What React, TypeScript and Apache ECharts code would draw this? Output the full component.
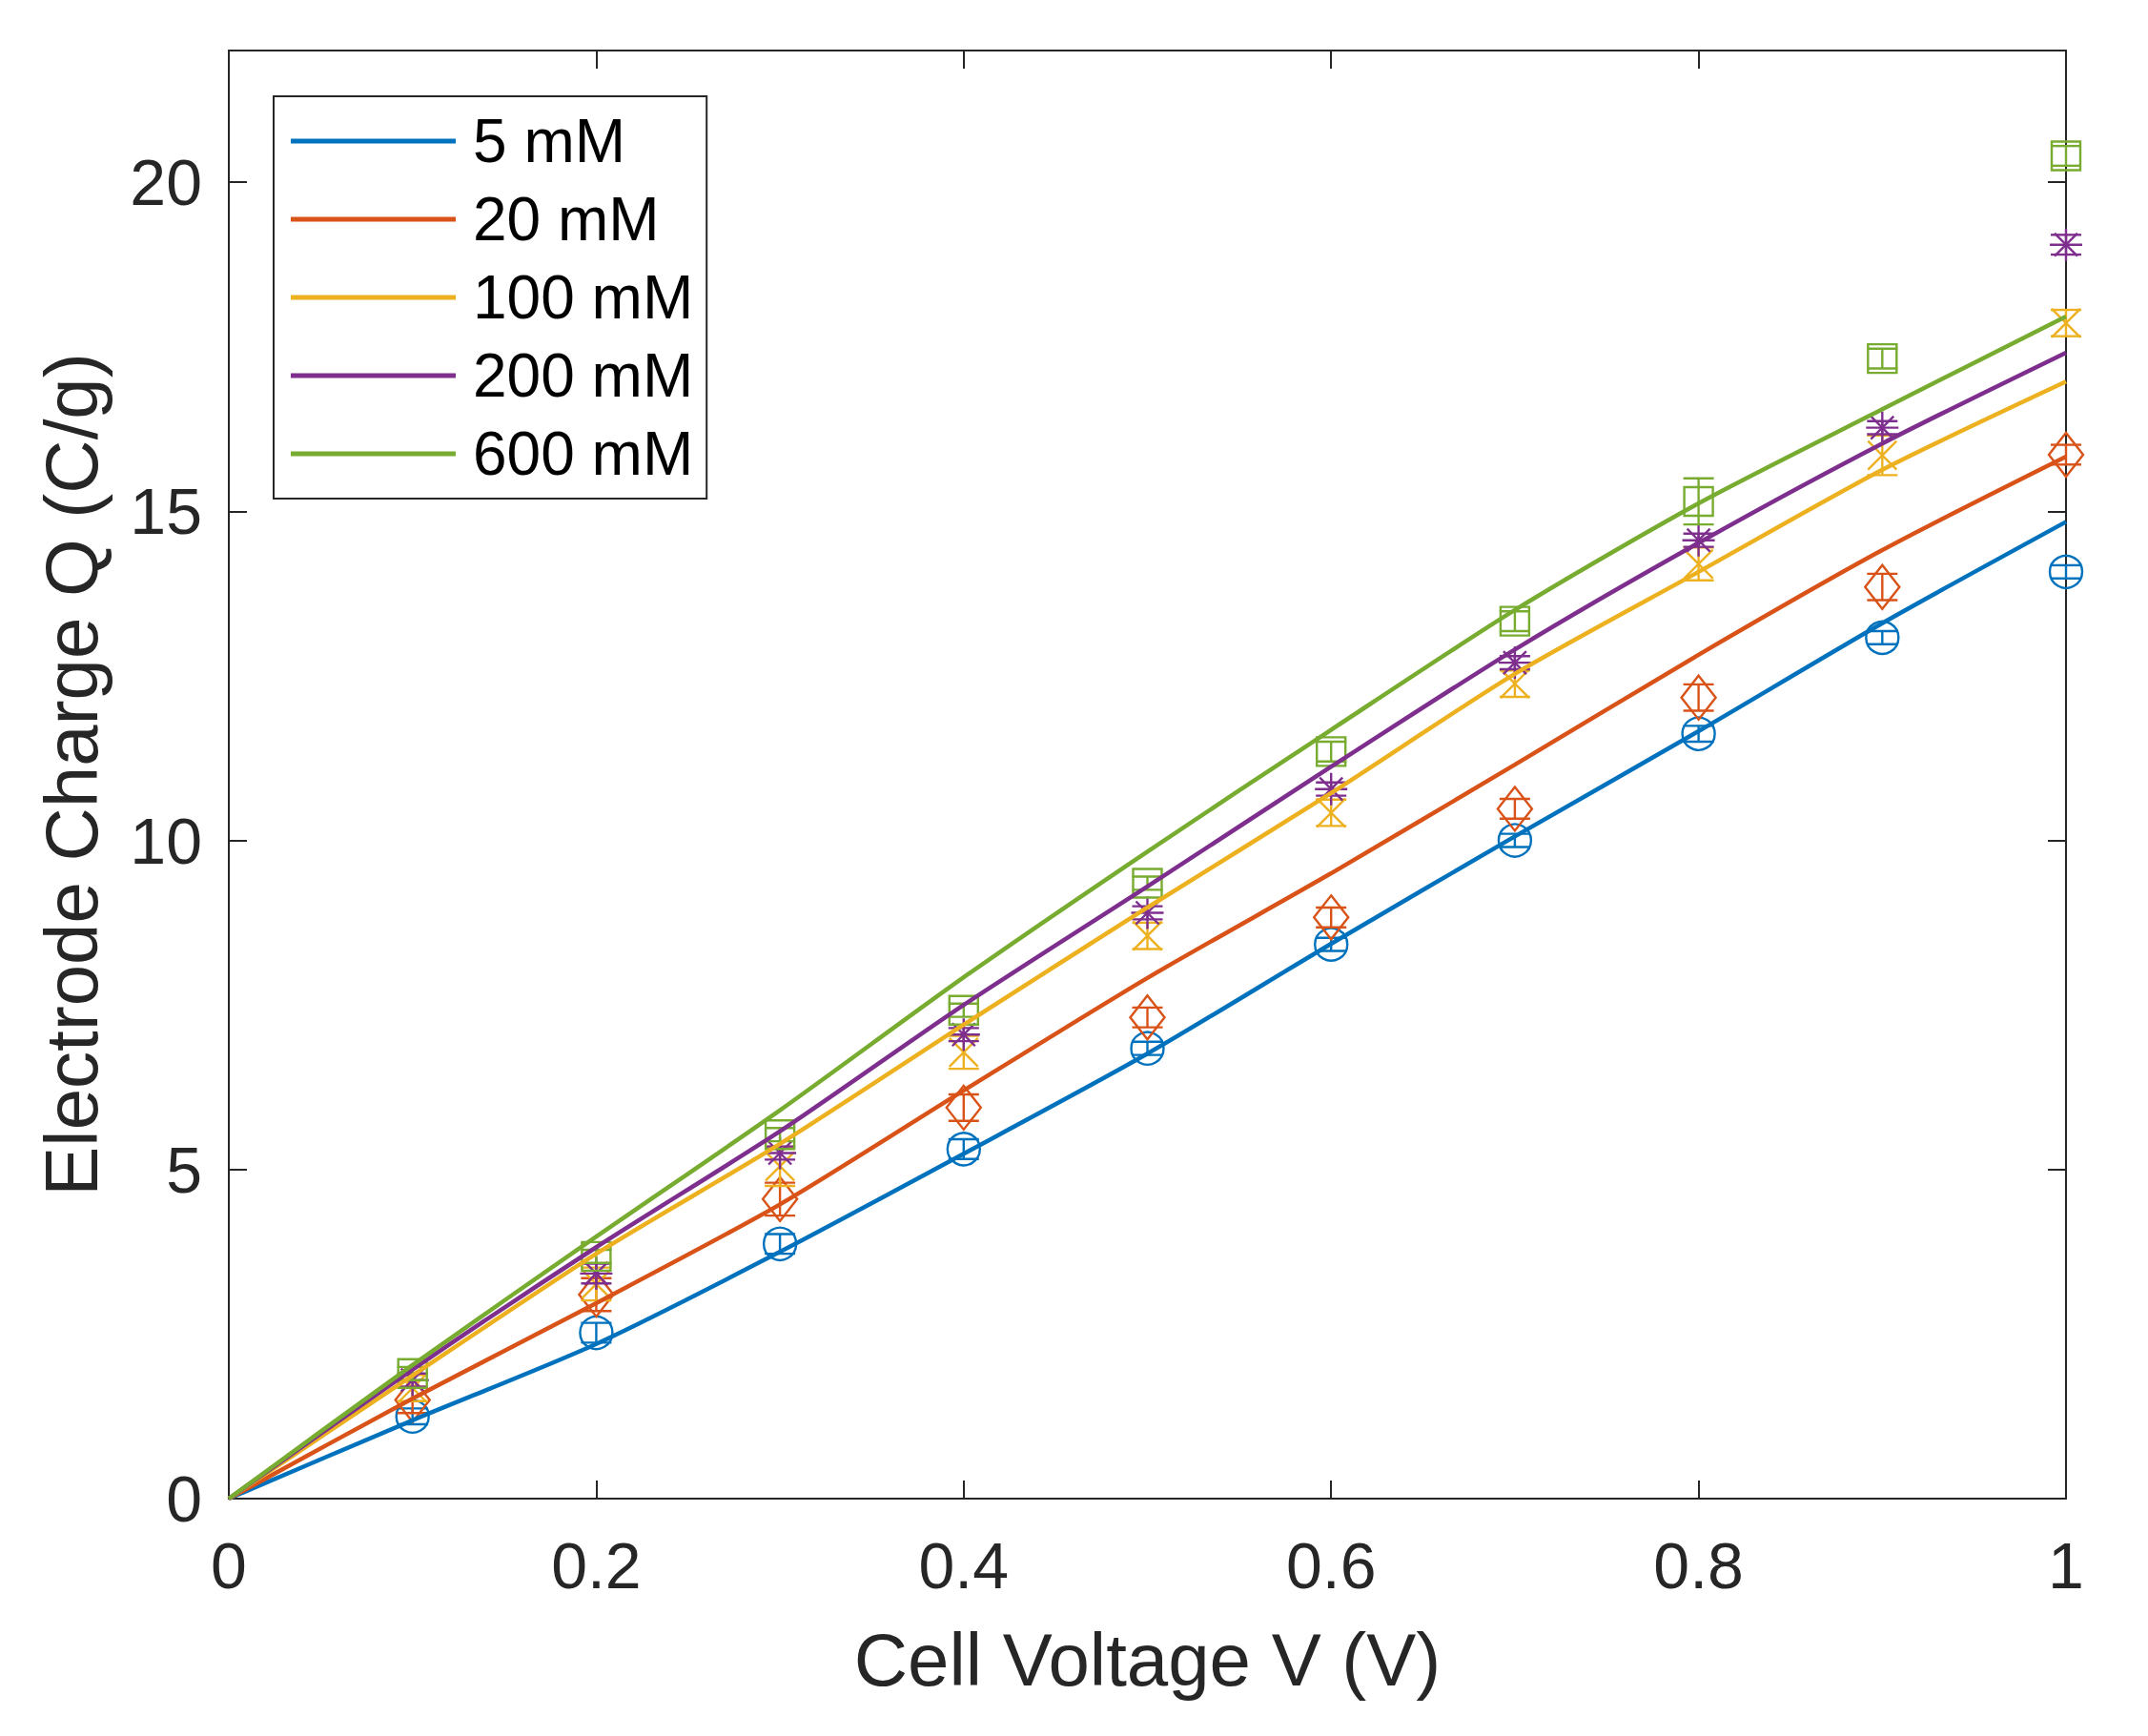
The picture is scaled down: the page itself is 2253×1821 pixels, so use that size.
import { useEffect, useRef } from "react"
import * as echarts from "echarts"

// model curves, sampled every 0.1 V
const voltage = [0, 0.1, 0.2, 0.3, 0.4, 0.5, 0.6, 0.7, 0.8, 0.9, 1.0]
const model5 = [0, 1.19, 2.35, 3.75, 5.24, 6.76, 8.43, 10.06, 11.66, 13.3, 14.84]
const model20 = [0, 1.52, 2.97, 4.47, 6.2, 7.91, 9.5, 11.15, 12.82, 14.41, 15.83]
const model100 = [0, 1.87, 3.72, 5.39, 7.2, 8.98, 10.72, 12.53, 14.08, 15.63, 16.97]
const model200 = [0, 1.96, 3.82, 5.58, 7.5, 9.3, 11.12, 12.9, 14.52, 16.03, 17.41]
const model600 = [0, 2.03, 3.98, 5.9, 7.92, 9.83, 11.68, 13.5, 15.12, 16.55, 17.96]

// measured points with error bars
const measuredVoltage = [0.1, 0.2, 0.3, 0.4, 0.5, 0.6, 0.7, 0.8, 0.9, 1.0]
const data5 = [1.25, 2.52, 3.87, 5.31, 6.84, 8.42, 10.0, 11.62, 13.08, 14.08]
const err5 = [0.12, 0.15, 0.15, 0.15, 0.1, 0.1, 0.1, 0.12, 0.1, 0.1]
const data20 = [1.5, 3.1, 4.55, 5.94, 7.31, 8.83, 10.48, 12.17, 13.85, 15.86]
const err20 = [0.2, 0.25, 0.25, 0.2, 0.15, 0.15, 0.15, 0.2, 0.2, 0.15]
const data100 = [1.68, 3.26, 5.05, 6.78, 8.55, 10.42, 12.38, 14.2, 15.85, 17.86]
const err100 = [0.2, 0.25, 0.3, 0.25, 0.2, 0.2, 0.2, 0.25, 0.3, 0.2]
const data200 = [1.8, 3.42, 5.25, 7.05, 8.9, 10.78, 12.7, 14.56, 16.27, 19.05]
const err200 = [0.1, 0.15, 0.1, 0.1, 0.1, 0.1, 0.1, 0.1, 0.1, 0.15]
const data600 = [1.9, 3.68, 5.53, 7.42, 9.35, 11.35, 13.33, 15.15, 17.32, 20.4]
const err600 = [0.1, 0.1, 0.1, 0.1, 0.1, 0.15, 0.15, 0.35, 0.15, 0.15]

const seriesNames = ["5 mM", "20 mM", "100 mM", "200 mM", "600 mM"]
const colors = ["#0072BD", "#D95319", "#EDB120", "#7E2F8E", "#77AC30"]
const markers = ["circle", "diamond", "cross", "asterisk", "square"]

const models = [model5, model20, model100, model200, model600]
const measured = [data5, data20, data100, data200, data600]
const errors = [err5, err20, err100, err200, err600]

const font = "'Liberation Sans', Arial, Helvetica, sans-serif"
const axisColor = "#262626"

function markerShapes(marker: string, cx: number, cy: number, style: any) {
  const line = (x1: number, y1: number, x2: number, y2: number) => ({
    type: "line",
    shape: { x1, y1, x2, y2 },
    style,
  })
  if (marker === "circle") {
    return [{ type: "circle", shape: { cx, cy, r: 17 }, style }]
  }
  if (marker === "diamond") {
    return [
      {
        type: "polygon",
        shape: { points: [[cx, cy - 23], [cx + 18, cy], [cx, cy + 23], [cx - 18, cy]] },
        style,
      },
    ]
  }
  if (marker === "cross") {
    return [line(cx - 15, cy - 15, cx + 15, cy + 15), line(cx - 15, cy + 15, cx + 15, cy - 15)]
  }
  if (marker === "asterisk") {
    return [
      line(cx - 17, cy, cx + 17, cy),
      line(cx, cy - 17, cx, cy + 17),
      line(cx - 12, cy - 12, cx + 12, cy + 12),
      line(cx - 12, cy + 12, cx + 12, cy - 12),
    ]
  }
  return [{ type: "rect", shape: { x: cx - 15, y: cy - 15, width: 30, height: 30 }, style }]
}

function makeRenderItem(marker: string, color: string) {
  return (params: any, api: any) => {
    const x = api.value(0)
    const y = api.value(1)
    const e = api.value(2)
    const [cx, cy] = api.coord([x, y])
    const top = api.coord([x, y + e])[1]
    const bot = api.coord([x, y - e])[1]
    const style = { stroke: color, lineWidth: 2.4, fill: "none" }
    const cap = 16
    return {
      type: "group",
      children: [
        { type: "line", shape: { x1: cx, y1: top, x2: cx, y2: bot }, style },
        { type: "line", shape: { x1: cx - cap, y1: top, x2: cx + cap, y2: top }, style },
        { type: "line", shape: { x1: cx - cap, y1: bot, x2: cx + cap, y2: bot }, style },
        ...markerShapes(marker, cx, cy, style),
      ],
    }
  }
}

export default function App() {
  const chartRef = useRef<HTMLDivElement>(null)

  useEffect(() => {
    if (!chartRef.current) return
    const chart = echarts.init(chartRef.current, null, { renderer: "svg" })

    const lineSeries = seriesNames.map((name, i) => ({
      name,
      type: "line",
      data: voltage.map((v, j) => [v, models[i][j]]),
      symbol: "none",
      smooth: 0.25,
      lineStyle: { color: colors[i], width: 4.5 },
      itemStyle: { color: colors[i] },
      z: 3,
    }))

    const pointSeries = seriesNames.map((name, i) => ({
      name: name + " data",
      type: "custom",
      data: measuredVoltage.map((v, j) => [v, measured[i][j], errors[i][j]]),
      encode: { x: 0, y: 1 },
      renderItem: makeRenderItem(markers[i], colors[i]),
      z: 2,
    }))

    const axisLine = { show: true, onZero: false, lineStyle: { color: axisColor, width: 2 } }
    const axisTick = { show: true, inside: true, length: 19, lineStyle: { color: axisColor, width: 2 } }

    const option = {
      animation: false,
      backgroundColor: "#ffffff",
      grid: { left: 240, top: 53, right: 86, bottom: 249 },
      legend: {
        orient: "vertical",
        left: 287,
        top: 101,
        data: seriesNames.map((name) => ({ name, icon: "rect" })),
        itemWidth: 173,
        itemHeight: 5,
        itemGap: 12,
        padding: [12, 14, 12, 18],
        borderColor: axisColor,
        borderWidth: 2,
        backgroundColor: "#ffffff",
        textStyle: {
          fontSize: 64,
          fontFamily: font,
          color: "#000000",
          lineHeight: 70,
          padding: [0, 0, 0, 13],
        },
      },
      xAxis: [
        {
          type: "value",
          min: 0,
          max: 1,
          interval: 0.2,
          position: "bottom",
          axisLine,
          axisTick,
          splitLine: { show: false },
          axisLabel: { fontSize: 68, fontFamily: font, color: axisColor, margin: 36 },
          name: "Cell Voltage V (V)",
          nameLocation: "middle",
          nameGap: 130,
          nameTextStyle: { fontSize: 78, fontFamily: font, color: axisColor },
        },
        {
          type: "value",
          min: 0,
          max: 1,
          interval: 0.2,
          position: "top",
          axisLine,
          axisTick,
          splitLine: { show: false },
          axisLabel: { show: false },
        },
      ],
      yAxis: [
        {
          type: "value",
          min: 0,
          max: 22,
          interval: 5,
          position: "left",
          axisLine,
          axisTick,
          splitLine: { show: false },
          axisLabel: {
            fontSize: 68,
            fontFamily: font,
            color: axisColor,
            margin: 28,
            formatter: (v: number) => (v > 20 ? "" : String(v)),
          },
          name: "Electrode Charge Q (C/g)",
          nameLocation: "middle",
          nameGap: 126,
          nameTextStyle: { fontSize: 78, fontFamily: font, color: axisColor },
        },
        {
          type: "value",
          min: 0,
          max: 22,
          interval: 5,
          position: "right",
          axisLine,
          axisTick,
          splitLine: { show: false },
          axisLabel: { show: false },
        },
      ],
      series: [...pointSeries, ...lineSeries],
    }

    chart.setOption(option)

    return () => {
      chart.dispose()
    }
  }, [])

  return (
    <div
      ref={chartRef}
      style={{ position: "fixed", left: 0, top: 0, width: 2253, height: 1821, background: "#fff" }}
    />
  )
}
